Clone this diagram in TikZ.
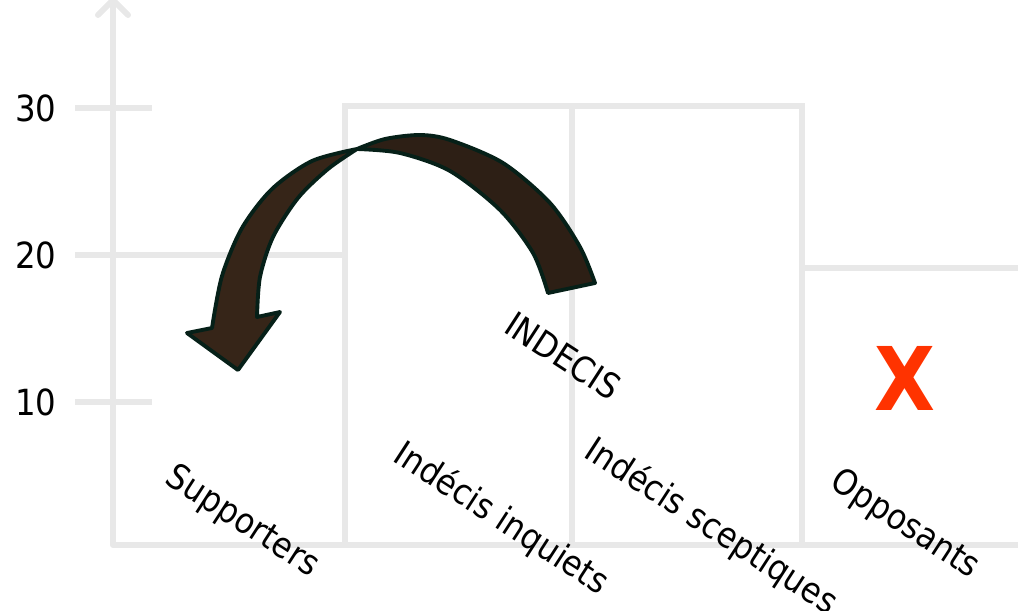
\documentclass[tikz,border=0pt]{standalone}
\usepackage{fontspec}
\setmainfont{DejaVu Sans Condensed}
\usetikzlibrary{arrows.meta}
\definecolor{chGrid}{RGB}{232,232,232}
\definecolor{chBrown}{RGB}{54,37,24}
\definecolor{chBrownDark}{RGB}{45,31,21}
\definecolor{chEdge}{RGB}{6,32,24}
\definecolor{chRed}{RGB}{255,51,0}
\tikzset{
    grid/.style={draw=chGrid, line width=3.4pt},
    axis/.style={grid, -{Straight Barb[length=3mm, width=6mm, round]}, line cap=round},
    tick/.style={font=\fontsize{20.5}{24}\selectfont, text=black},
    category/.style={font=\fontsize{20}{24}\selectfont, text=black, rotate=-33, inner sep=0pt},
    ribbon/.style={fill=chBrown, draw=chEdge, line width=2.2pt, line join=round},
    crossmark/.style={font=\bfseries\fontsize{50}{56}\selectfont, text=chRed}
}
\begin{document}
\begin{tikzpicture}[x=0.2mm, y=-0.2mm]
  \useasboundingbox (0,0) rectangle (1018,610);

  % axis and ticks
  \draw[axis] (113,545) -- (113,-3);
  \foreach \y/\v in {108/30, 255/20, 402/10} {
    \draw[grid] (75,\y) -- (152,\y);
    \node[tick] (lab\v) at (36,\y) {\v};
  }

  % bars
  \draw[grid] (113,545) -- (1018,545);
  \draw[grid] (113,255) -- (345,255);
  \draw[grid] (345,545) -- (345,106) -- (802,106) -- (802,545);
  \draw[grid] (572,106) -- (572,545);
  \draw[grid] (802,268) -- (1018,268);

  % curved arrow, back half
  \filldraw[ribbon, fill=chBrownDark]
    plot[smooth] coordinates {(595,283) (580,247) (550,203) (503,163) (450,140) (420,135) (385,139) (357,149)}
    -- plot[smooth] coordinates {(357,149) (400,153) (450,171) (500,210) (533,253) (548,293)}
    -- cycle;
  % curved arrow, front half with head
  \filldraw[ribbon]
    plot[smooth] coordinates {(357,149) (312,161) (272,189) (242,228) (222,276) (212,328)}
    -- (187,333) -- (238,370) -- (280,312) -- (257,317)
    -- plot[smooth] coordinates {(257,317) (260,277) (273,237) (298,198) (328,169) (357,149)}
    -- cycle;

  % labels
  \node[category] (indecis) at (563,356) {INDECIS};
  \node[crossmark] (cross) at (905,378) {X};
  \node[category] (supp) at (242,522) {Supporters};
  \node[category] (inq) at (501,519) {Indécis inquiets};
  \node[category] (scep) at (711,527) {Indécis sceptiques};
  \node[category] (opp) at (905,525) {Opposants};
\end{tikzpicture}
\end{document}
